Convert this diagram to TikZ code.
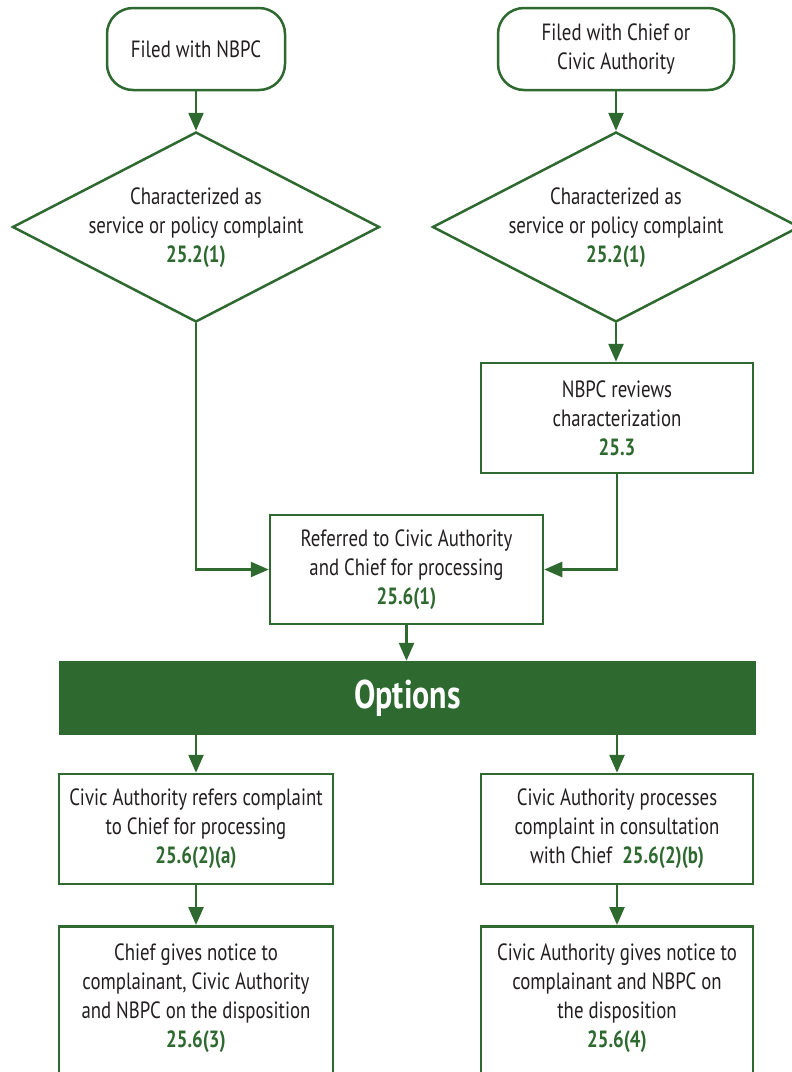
\documentclass[tikz,border=0pt]{standalone}
\usepackage{fontspec}
\setmainfont{PT Sans}[FakeStretch=0.8]
\usetikzlibrary{arrows.meta,shapes.geometric}
\definecolor{grn}{HTML}{2E6A30}
\definecolor{txtc}{HTML}{231F20}
\newcommand{\grnum}[1]{{\color{grn}\bfseries #1}}
\begin{document}
\begin{tikzpicture}[x=1pt,y=-1pt,
  box/.style={draw=grn,line width=2.5pt,fill=white,inner sep=0pt},
  rbox/.style={box,rounded corners=26pt},
  dia/.style={draw=grn,line width=2.5pt,diamond,inner sep=0pt},
  txt/.style={text=txtc,align=center,font=\fontsize{23.5}{29}\selectfont,inner sep=0pt},
  arr/.style={draw=grn,line width=2.5pt,-{Triangle[length=18pt,width=15pt]}},
]
\useasboundingbox (0,0) rectangle (792,1072);
\fill[white] (0,0) rectangle (792,1072);
\clip (0,0) rectangle (792,1072);

% top rounded boxes
\node[rbox,txt,minimum width=178pt,minimum height=82pt] (f1) at (196,49) {Filed with NBPC};
\node[rbox,txt,minimum width=236pt,minimum height=82pt] (f2) at (616,49) {Filed with Chief or\\Civic Authority};

% diamonds
\node[dia,minimum width=367pt,minimum height=190pt] (d1) at (196,227) {};
\node[txt] (d1t) at (196,228) {Characterized as\\service or policy complaint\\\grnum{25.2(1)}};
\node[dia,minimum width=367pt,minimum height=190pt] (d2) at (616,227) {};
\node[txt] (d2t) at (616,228) {Characterized as\\service or policy complaint\\\grnum{25.2(1)}};

% NBPC reviews
\node[box,txt,minimum width=272pt,minimum height=110pt] (nr) at (617,418) {NBPC reviews\\characterization\\\grnum{25.3}};

% Referred
\node[box,txt,minimum width=273pt,minimum height=109pt] (rf) at (406.5,569.5) {Referred to Civic Authority\\and Chief for processing\\\grnum{25.6(1)}};

% Options bar
\node[fill=grn,inner sep=0pt,minimum width=697pt,minimum height=74pt,text=white,font=\fontsize{40}{42}\selectfont\bfseries] (op) at (407.5,698) {Options};

% option boxes
\node[box,txt,minimum width=274pt,minimum height=110pt] (c1) at (196,829) {Civic Authority refers complaint\\to Chief for processing\\\grnum{25.6(2)(a)}};
\node[box,txt,minimum width=272pt,minimum height=110pt] (c2) at (617,829) {Civic Authority processes\\complaint in consultation\\with Chief\ \ \grnum{25.6(2)(b)}};

% bottom boxes (cut off by the page edge)
\node[box,minimum width=274pt,minimum height=170pt,anchor=north] (e1) at (196,925) {};
\node[txt] (e1t) at (196,998) {Chief gives notice to\\complainant, Civic Authority\\and NBPC on the disposition\\\grnum{25.6(3)}};
\node[box,minimum width=272pt,minimum height=170pt,anchor=north] (e2) at (617,925) {};
\node[txt] (e2t) at (617,998) {Civic Authority gives notice to\\complainant and NBPC on\\the disposition\\\grnum{25.6(4)}};

% connectors
\draw[arr] (f1.south) -- (d1.north);
\draw[arr] (f2.south) -- (d2.north);
\draw[arr] (d2.south) -- (d2.south |- nr.north);
\draw[arr] (d1.south) |- (rf.west);
\draw[arr] (nr.south) |- (rf.east);
\draw[arr] (rf.south) -- (rf.south |- op.north);
\draw[arr] (c1.north |- op.south) -- (c1.north);
\draw[arr] (c2.north |- op.south) -- (c2.north);
\draw[arr] (c1.south) -- (e1.north);
\draw[arr] (c2.south) -- (e2.north);
\end{tikzpicture}
\end{document}
